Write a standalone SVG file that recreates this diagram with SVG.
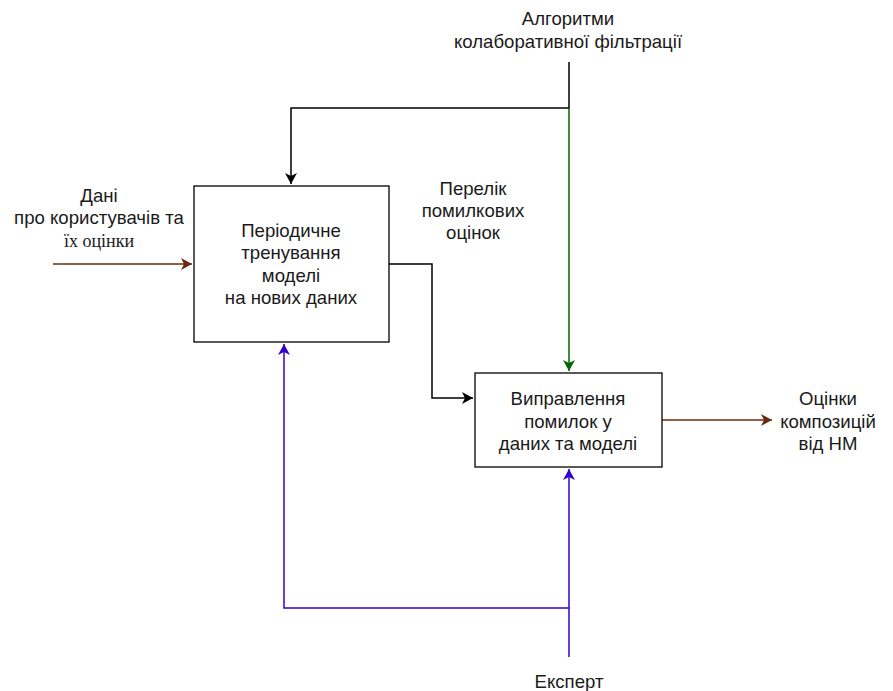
<svg xmlns="http://www.w3.org/2000/svg" width="893" height="691" viewBox="0 0 893 691">
  <style>
    text { font-family: "Liberation Sans", Arial, sans-serif; font-size: 18.6px; fill: #1a1a1a; text-anchor: middle; }
    text.serif { font-family: "Liberation Serif", "Times New Roman", serif; font-size: 18px; }
    .box { fill: #ffffff; stroke: #000000; stroke-width: 1.3; }
    .line { fill: none; stroke-width: 1.5; }
  </style>
  <defs>
    <marker id="arrowBlack" markerWidth="12" markerHeight="12" refX="9" refY="6" orient="auto" markerUnits="userSpaceOnUse" viewBox="0 0 12 12" overflow="visible">
      <path d="M-2,0 L9,6 L-2,12 L1,6 Z" fill="#000000"/>
    </marker>
    <marker id="arrowGreen" markerWidth="12" markerHeight="12" refX="9" refY="6" orient="auto" markerUnits="userSpaceOnUse" viewBox="0 0 12 12" overflow="visible">
      <path d="M-2,0 L9,6 L-2,12 L1,6 Z" fill="#006600"/>
    </marker>
    <marker id="arrowBlue" markerWidth="12" markerHeight="12" refX="9" refY="6" orient="auto" markerUnits="userSpaceOnUse" viewBox="0 0 12 12" overflow="visible">
      <path d="M-2,0 L9,6 L-2,12 L1,6 Z" fill="#3300cc"/>
    </marker>
    <marker id="arrowBrown" markerWidth="12" markerHeight="12" refX="9" refY="6" orient="auto" markerUnits="userSpaceOnUse" viewBox="0 0 12 12" overflow="visible">
      <path d="M-2,0 L9,6 L-2,12 L1,6 Z" fill="#6b2a0f"/>
    </marker>
  </defs>

  <g id="connectors">
    <!-- control: algorithms -->
    <path class="line" stroke="#000000" d="M569,62 L569,108 L291,108 L291,184" marker-end="url(#arrowBlack)"/>
    <path class="line" stroke="#006600" d="M569,108 L569,371" marker-end="url(#arrowGreen)"/>
    <!-- list of erroneous ratings -->
    <path class="line" stroke="#000000" d="M389,264 L432,264 L432,398 L473,398" marker-end="url(#arrowBlack)"/>
    <!-- input data -->
    <path class="line" stroke="#6b2a0f" d="M53,264 L192,264" marker-end="url(#arrowBrown)"/>
    <!-- output -->
    <path class="line" stroke="#6b2a0f" d="M662,420 L772,420" marker-end="url(#arrowBrown)"/>
    <!-- mechanism: expert -->
    <path class="line" stroke="#3300cc" d="M569,657 L569,469" marker-end="url(#arrowBlue)"/>
    <path class="line" stroke="#3300cc" d="M569,608 L284,608 L284,344" marker-end="url(#arrowBlue)"/>
  </g>

  <g id="node-training">
    <rect class="box" x="194" y="186" width="195" height="156"/>
    <text x="291" y="237">Періодичне</text>
    <text x="291" y="259">тренування</text>
    <text x="291" y="282">моделі</text>
    <text x="291" y="304">на нових даних</text>
  </g>

  <g id="node-correction">
    <rect class="box" x="475" y="373" width="187" height="94"/>
    <text x="568" y="405">Виправлення</text>
    <text x="568" y="428">помилок у</text>
    <text x="568" y="450">даних та моделі</text>
  </g>

  <g id="label-algorithms">
    <text x="568" y="25">Алгоритми</text>
    <text x="568" y="48">колаборативної фільтрації</text>
  </g>

  <g id="label-input">
    <text x="99" y="202">Дані</text>
    <text x="99" y="224">про користувачів та</text>
    <text class="serif" x="99" y="247">їх оцінки</text>
  </g>

  <g id="label-errors">
    <text x="473" y="195">Перелік</text>
    <text x="473" y="217">помилкових</text>
    <text x="473" y="239">оцінок</text>
  </g>

  <g id="label-output">
    <text x="828" y="405">Оцінки</text>
    <text x="828" y="428">композицій</text>
    <text x="828" y="450">від НМ</text>
  </g>

  <g id="label-expert">
    <text x="569" y="688">Експерт</text>
  </g>
</svg>
